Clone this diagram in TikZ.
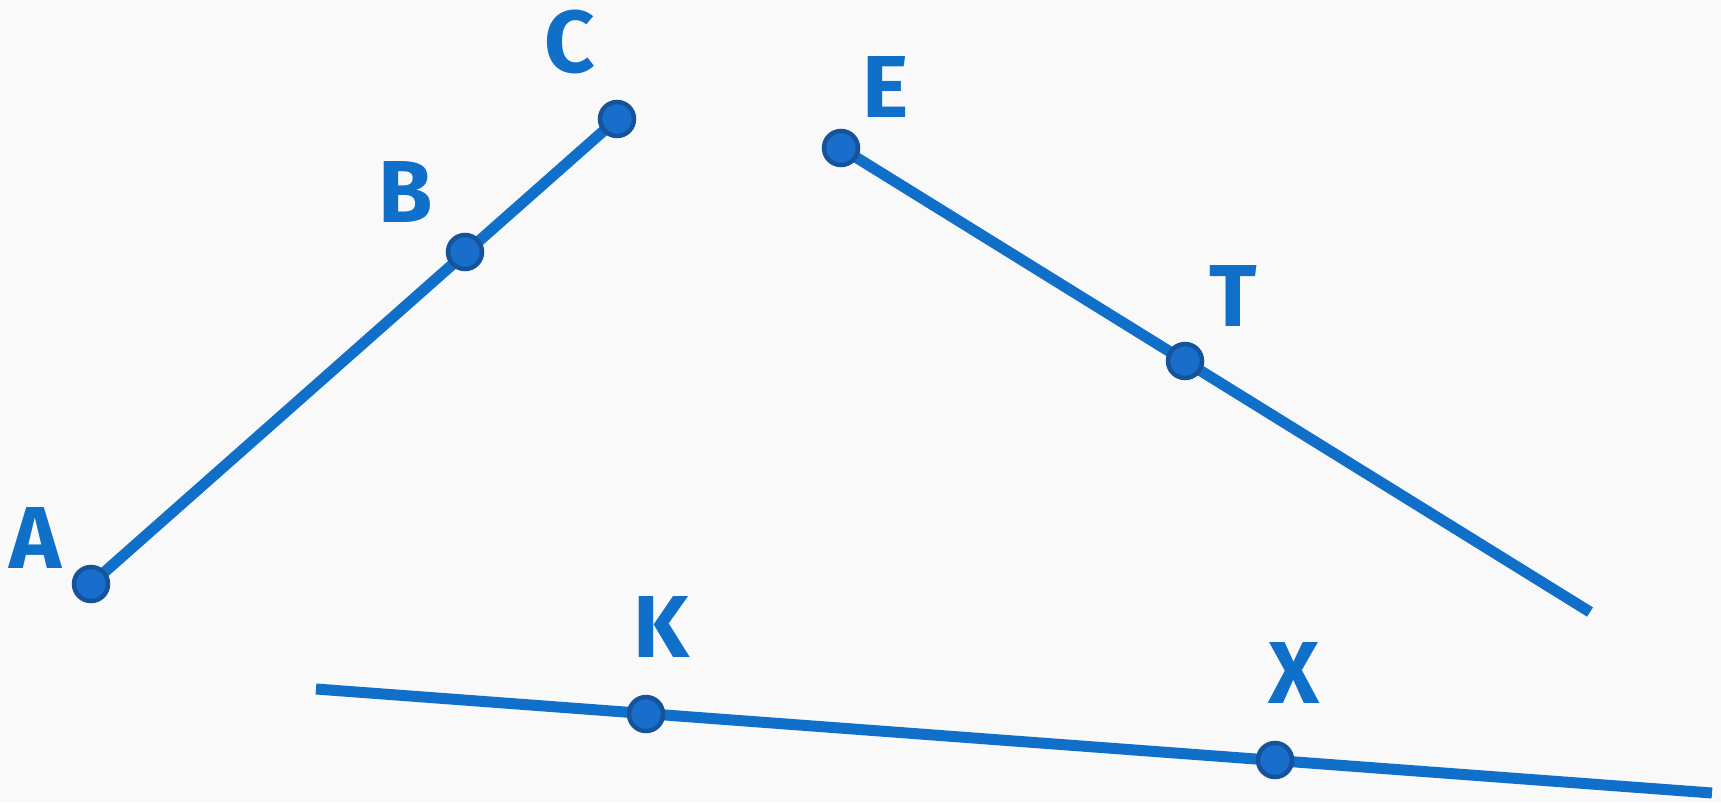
\documentclass[tikz,border=0pt]{standalone}
\usepackage{fontspec}
\setmainfont{Fira Sans}
\definecolor{linec}{HTML}{0F6FC9}
\definecolor{dotfill}{HTML}{1A6ECB}
\definecolor{dotline}{HTML}{15539A}
\definecolor{bg}{HTML}{F9F9F9}
\begin{document}
\begin{tikzpicture}[x=1pt,y=-1pt,
  pt/.style={circle,fill=dotfill,draw=dotline,line width=4.5pt,minimum size=34pt,inner sep=0pt},
  seg/.style={draw=linec,line width=11pt},
  lab/.style={text=linec,font=\fontsize{88}{88}\selectfont\bfseries,inner sep=0pt}]
\fill[bg] (0,0) rectangle (1721,803);
\useasboundingbox (0,0) rectangle (1721,803);
% points
\coordinate (A) at (91,584);
\coordinate (B) at (465,252);
\coordinate (C) at (617,119);
\coordinate (E) at (841,148);
\coordinate (T) at (1185,361);
\coordinate (R) at (1590,612);
\coordinate (L1) at (316,689);
\coordinate (L2) at (1712,793);
\coordinate (K) at (646,714);
\coordinate (X) at (1275,760);
% lines
\draw[seg] (A) -- (C);
\draw[seg] (E) -- (R);
\draw[seg] (L1) -- (L2);
% dots
\node[pt] (dA) at (A) {};
\node[pt] (dB) at (B) {};
\node[pt] (dC) at (C) {};
\node[pt] (dE) at (E) {};
\node[pt] (dT) at (T) {};
\node[pt] (dK) at (K) {};
\node[pt] (dX) at (X) {};
% labels
\node[lab] (lA) at (35,538) {A};
\node[lab] (lB) at (406,192) {B};
\node[lab] (lC) at (570,42) {C};
\node[lab] (lE) at (886,87) {E};
\node[lab] (lT) at (1233,296) {T};
\node[lab] (lK) at (661,627) {K};
\node[lab] (lX) at (1294,673) {X};
\end{tikzpicture}
\end{document}
